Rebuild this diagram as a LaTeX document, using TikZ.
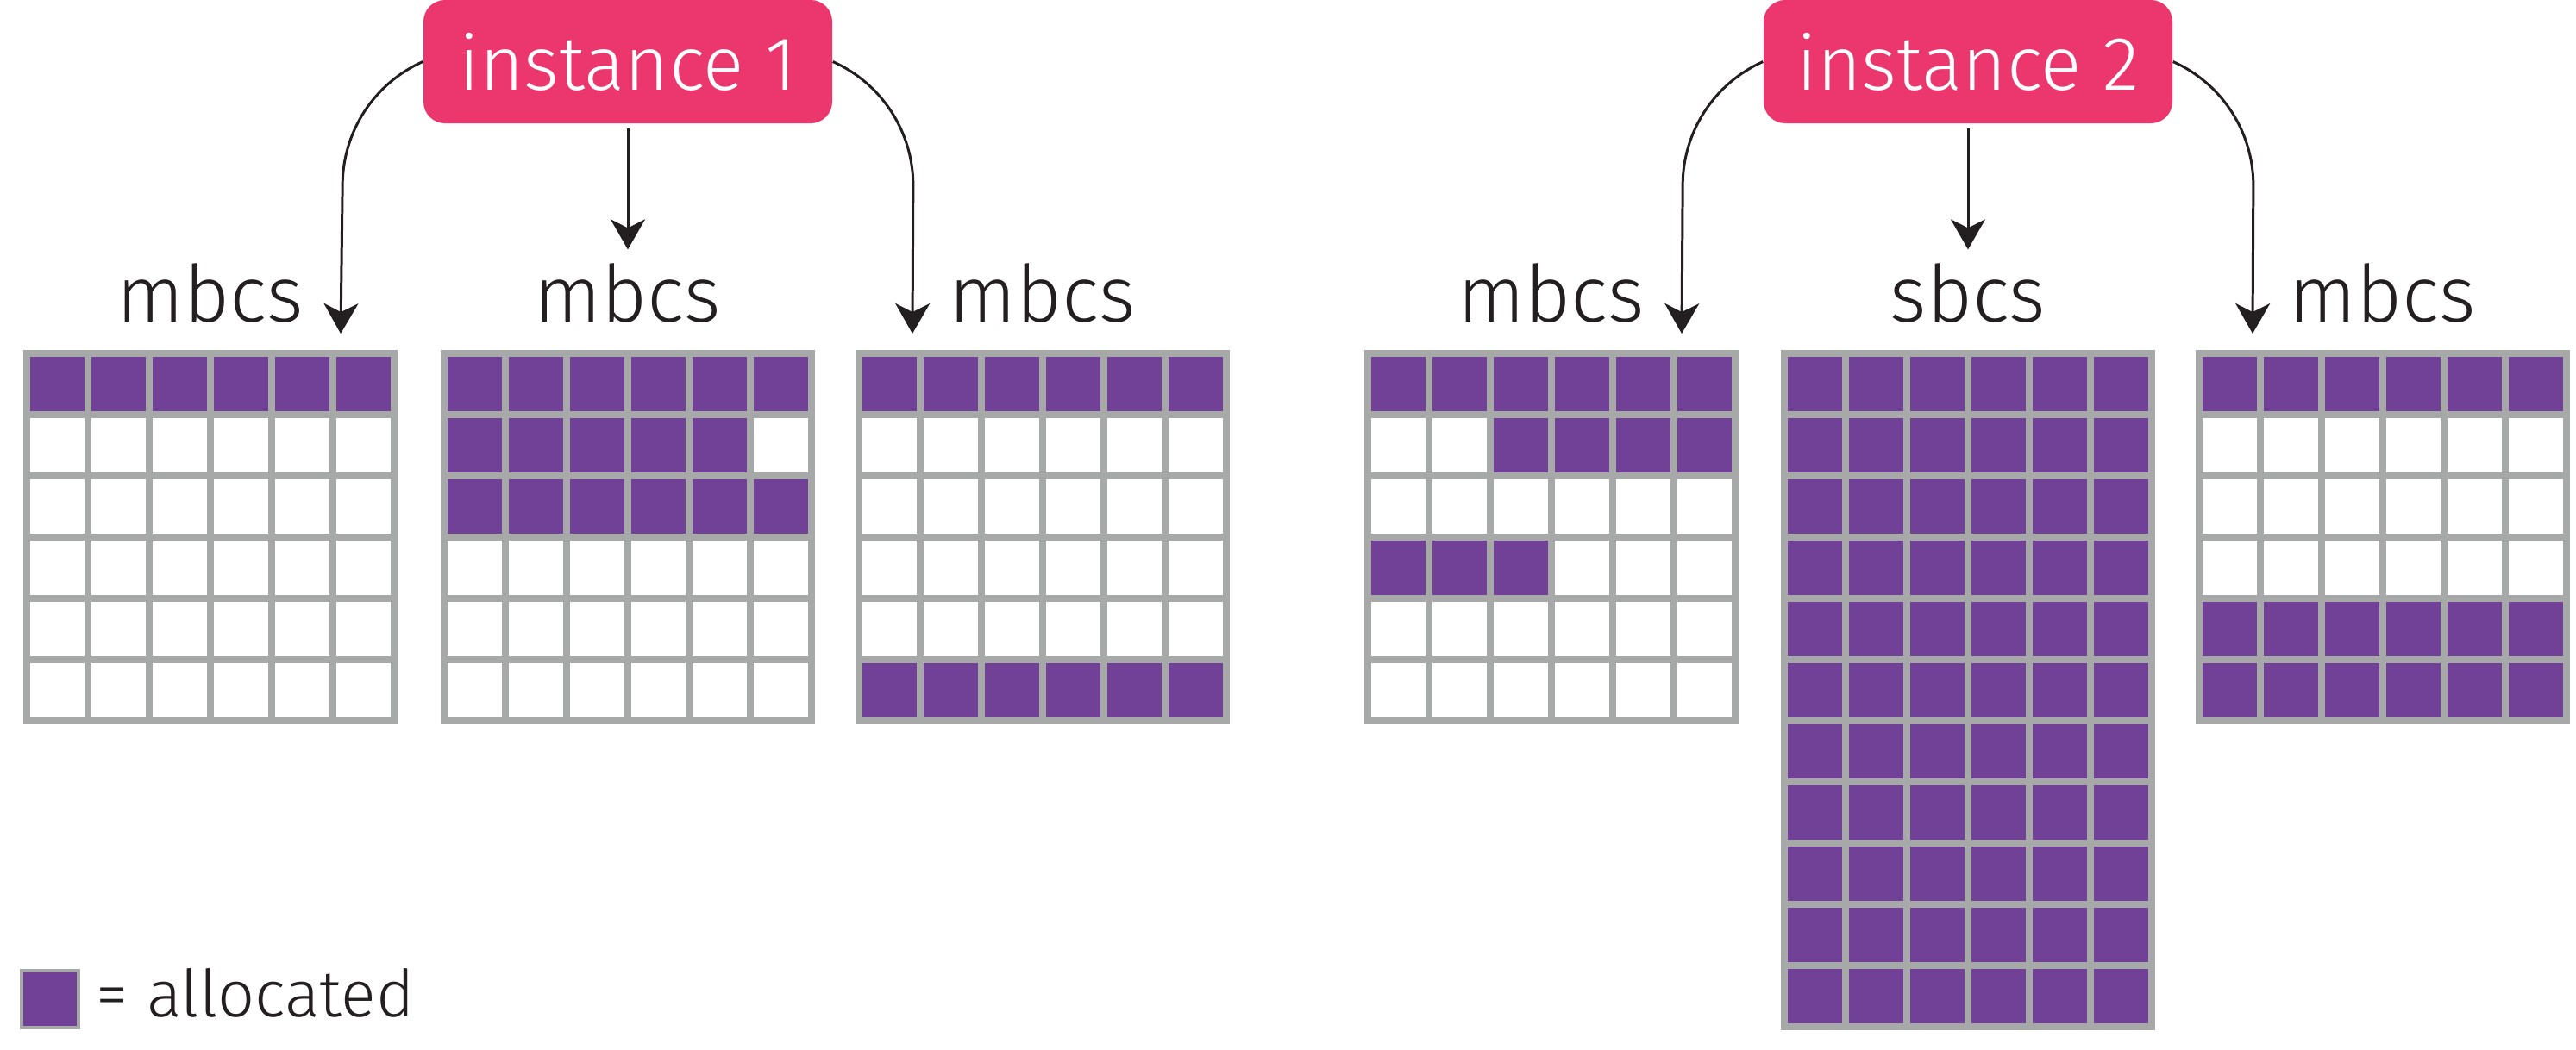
\documentclass[tikz,border=0pt]{standalone}
\usepackage{fontspec}
\setmainfont{Fira Sans}[UprightFont={* Light}]
\usepackage{tikz}
\usetikzlibrary{arrows.meta,positioning,calc}
\definecolor{instpink}{RGB}{236,54,110}
\definecolor{allocpurple}{RGB}{113,64,151}
\definecolor{slotgray}{RGB}{167,169,169}
\definecolor{inkblack}{RGB}{35,31,32}
\tikzstyle{line} = [draw, inkblack, line width=0.85pt, ->]
\tikzset{>={Stealth[length=3.5mm,width=4mm,inset=1mm]}}
\tikzset{
  inst/.style={fill=instpink, text=white, rounded corners=0.25cm,
    minimum width=4.74cm, minimum height=1.43cm, font=\fontsize{25}{30}\selectfont},
  kind/.style={text=inkblack, inner sep=0pt, anchor=base, font=\fontsize{26}{31}\selectfont},
  board/.style={fill=slotgray, inner sep=0pt, outer sep=0pt, minimum width=4.34cm, anchor=north west},
  free/.style={fill=white},
  taken/.style={fill=allocpurple},
  keytext/.style={text=inkblack, inner sep=0pt, font=\fontsize{21.5}{25}\selectfont},
}

\begin{document}
\begin{tikzpicture}
  \useasboundingbox (0,0) rectangle (29.87,-12.18);
  % grids: name / left edge / rows
  \foreach \g/\x/\n in {g1/0.27/6, g2/5.11/6, g3/9.92/6, g4/15.82/6, g5/20.65/11, g6/25.46/6} {
    \node [board, minimum height={\n*0.71cm+0.08cm}] (\g) at (\x,-4.06) {};
    \foreach \r in {1,...,\n}
      \foreach \c in {1,...,6}
        \fill [free] ($(\g.north west)+({0.08+(\c-1)*0.71},{-0.08-(\r-1)*0.71})$) rectangle ++(0.63,-0.63);
  }
  % allocated runs: grid / row / first col / last col
  \foreach \g/\r/\a/\b in {g1/1/1/6, g2/1/1/6, g2/2/1/5, g2/3/1/6, g3/1/1/6, g3/6/1/6,
      g4/1/1/6, g4/2/3/6, g4/4/1/3, g6/1/1/6, g6/5/1/6, g6/6/1/6}
    \foreach \c in {\a,...,\b}
      \fill [taken] ($(\g.north west)+({0.08+(\c-1)*0.71},{-0.08-(\r-1)*0.71})$) rectangle ++(0.63,-0.63);
  \foreach \r in {1,...,11}
    \foreach \c in {1,...,6}
      \fill [taken] ($(g5.north west)+({0.08+(\c-1)*0.71},{-0.08-(\r-1)*0.71})$) rectangle ++(0.63,-0.63);

  \node [inst] (i1) at (g2.north |- 0,-0.715) {instance 1};
  \node [inst] (i2) at (g5.north |- 0,-0.715) {instance 2};

  \node [kind] (l1) at ($(g1.north)+(0,0.33)$) {mbcs};
  \node [kind] (l2) at ($(g2.north)+(0,0.33)$) {mbcs};
  \node [kind] (l3) at ($(g3.north)+(0,0.33)$) {mbcs};
  \node [kind] (l4) at ($(g4.north)+(0,0.33)$) {mbcs};
  \node [kind] (l5) at ($(g5.north)+(0,0.33)$) {sbcs};
  \node [kind] (l6) at ($(g6.north)+(0,0.33)$) {mbcs};

  \coordinate (t1) at ($(g1.north east)+(-0.66,0.19)$);
  \coordinate (t3) at ($(g3.north west)+(0.66,0.19)$);
  \coordinate (t4) at ($(g4.north east)+(-0.66,0.19)$);
  \coordinate (t6) at ($(g6.north west)+(0.66,0.19)$);

  \path [line] (i1.west) arc [start angle=114, end angle=180, radius=1.57cm] -- (t1);
  \path [line, shorten <=0.05cm, shorten >=0.15cm] (i1.south) -- (l2.north);
  \path [line] (i1.east) arc [start angle=66, end angle=0, radius=1.57cm] -- (t3);
  \path [line] (i2.west) arc [start angle=114, end angle=180, radius=1.57cm] -- (t4);
  \path [line, shorten <=0.05cm, shorten >=0.15cm] (i2.south) -- (l5.north);
  \path [line] (i2.east) arc [start angle=66, end angle=0, radius=1.57cm] -- (t6);

  \node [taken, draw=slotgray, line width=0.04cm, minimum size=0.66cm, inner sep=0pt] (key) at (0.58,-11.59) {};
  \node [keytext, anchor=base west] (keylbl) at ($(key.south east)+(0.18,0.15)$) {= allocated};
\end{tikzpicture}
\end{document}
